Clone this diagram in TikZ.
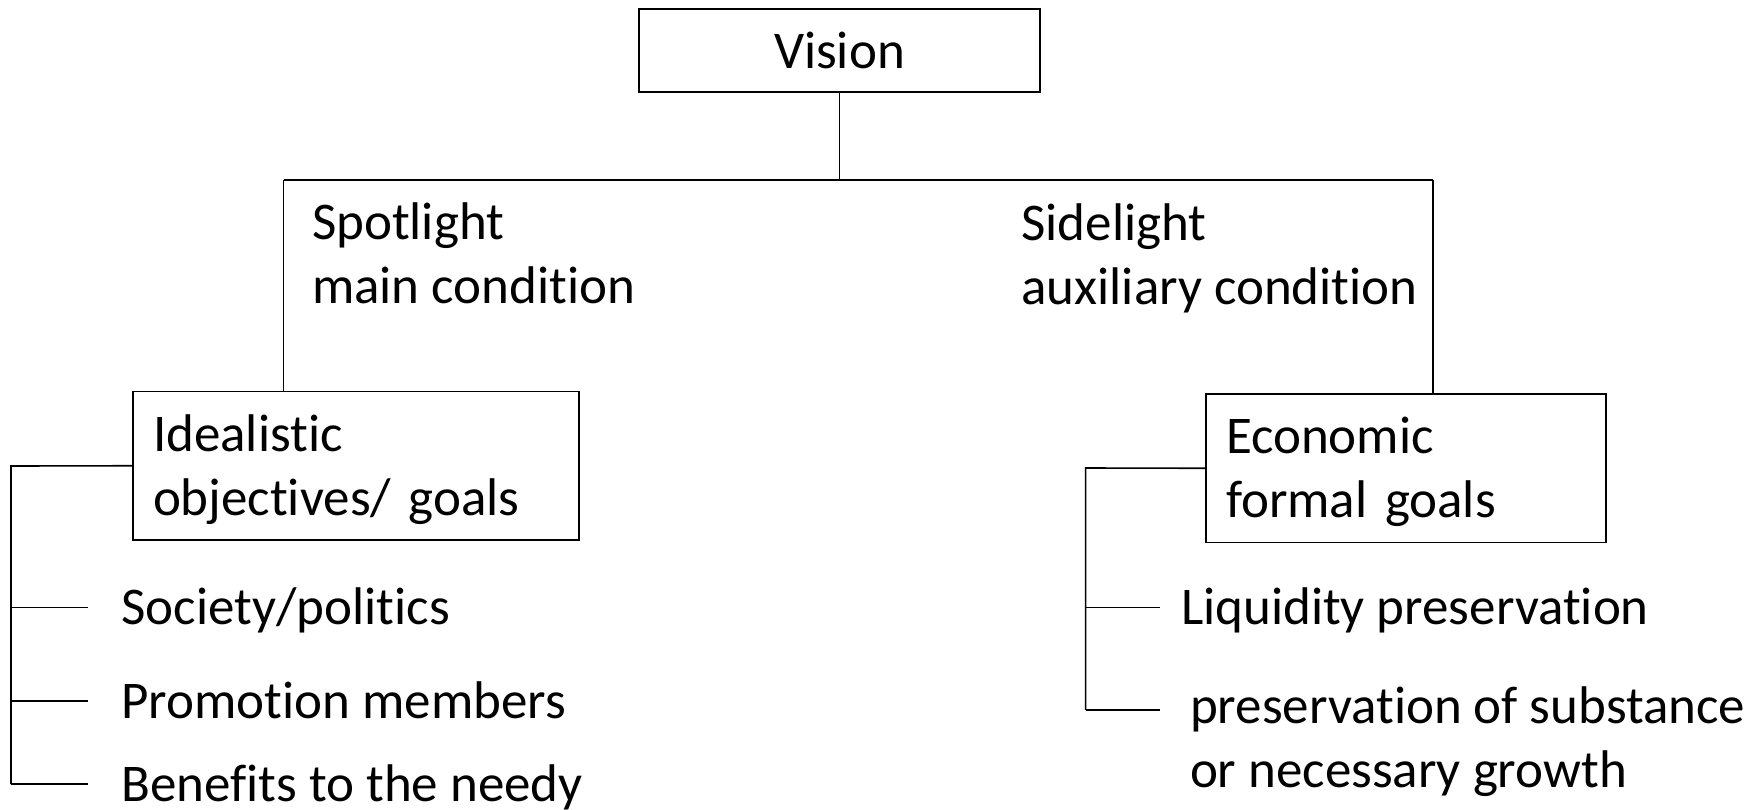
\documentclass[tikz,border=0pt]{standalone}
\usepackage{fontspec}
\setmainfont{Carlito}[Ligatures={NoCommon}]
\begin{document}
\begin{tikzpicture}[x=1pt,y=-1pt,
  every node/.style={font=\fontsize{53}{64}\selectfont, outer sep=0pt},
  box/.style={draw, line width=1.6pt, inner xsep=20pt, inner ysep=19.5pt, text height=40pt, text depth=69.5pt, align=left, anchor=north west},
  lbl/.style={inner sep=0pt, anchor=base west, align=left},
  conn/.style={line width=1.6pt}]
\useasboundingbox (0,0) rectangle (1764,809);
% boxes
\node[draw, line width=1.6pt, minimum width=401pt, minimum height=83pt, inner sep=0pt] (vision) at (839.5,50.5) {Vision};
\node[box, text width=406pt] (ideal) at (133,391.5) {Idealistic\\objectives/ goals};
\node[box, text width=360pt] (econ) at (1206,394) {Economic\\formal goals};
% labels (multi-line: anchored at last line's baseline)
\node[lbl] (spot) at (312,303) {Spotlight\\main condition};
\node[lbl] (side) at (1021.5,304) {Sidelight\\auxiliary condition};
\node[lbl] (i1) at (121.5,624.5) {Society/politics};
\node[lbl] (i2) at (121.5,718) {Promotion members};
\node[lbl] (i3) at (121.5,801) {Benefits to the needy};
\node[lbl] (e1) at (1181,624.5) {Liquidity preservation};
\node[lbl] (e2) at (1190,787.5) {preservation of substance\\or necessary growth};
% connector coordinates
\coordinate (jl) at (283.5,180);
\coordinate (jr) at (1433,180);
\coordinate (lb) at (11,466);
\coordinate (t1) at (88,607.5);
\coordinate (t2) at (88,701);
\coordinate (t3) at (88,784);
\coordinate (rb) at (1085.6,468);
\coordinate (u1) at (1160,607.5);
\coordinate (u2) at (1160,710);
% connectors
\draw[conn] (vision.south) -- (vision.south |- jl);
\draw[conn] (jl) -- (jr);
\draw[conn] (jl) -- (jl |- ideal.north);
\draw[conn] (jr) -- (jr |- econ.north);
\draw[conn] (ideal.west) -- (lb) -- (lb |- t3);
\draw[conn] (lb |- t1) -- (t1);
\draw[conn] (lb |- t2) -- (t2);
\draw[conn] (lb |- t3) -- (t3);
\draw[conn] (econ.west) -- (rb) -- (rb |- u2);
\draw[conn] (rb |- u1) -- (u1);
\draw[conn] (rb |- u2) -- (u2);
\end{tikzpicture}
\end{document}
